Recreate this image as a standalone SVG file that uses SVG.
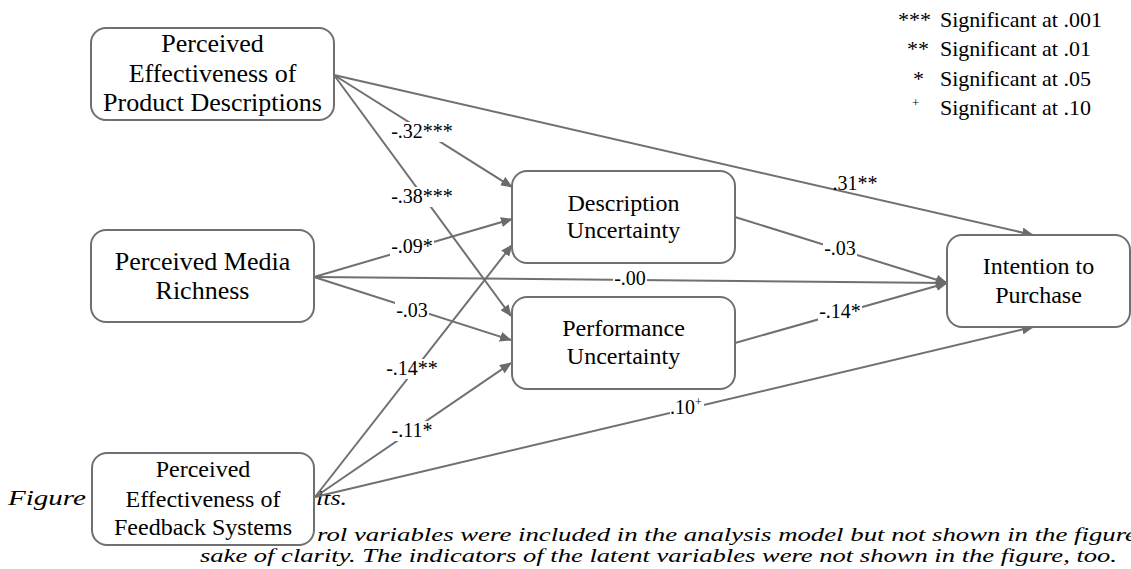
<svg xmlns="http://www.w3.org/2000/svg" width="1131" height="569" viewBox="0 0 1131 569">
<defs>
<marker id="ah" markerUnits="userSpaceOnUse" markerWidth="12" markerHeight="10" refX="11" refY="5" orient="auto">
<path d="M0,0 L12,5 L0,10 z" fill="#6b6b6b"/>
</marker>
<style>
text{font-family:'Liberation Serif','Times New Roman',Tinos,'DejaVu Serif',serif;fill:#000}
.box{fill:#fff;stroke:#707070;stroke-width:2}
.nt{font-size:24px;text-anchor:middle}
.nc{font-size:26px;text-anchor:middle}
.ln{stroke:#707070;stroke-width:2;fill:none;marker-end:url(#ah)}
.lb{font-size:20px;text-anchor:middle}
.bg{fill:#fff}
.cap{font-size:21px;font-style:italic}
.cap2{font-size:18px;font-style:italic}
.lg{font-size:22px}
</style>
</defs>
<rect width="1131" height="569" fill="#fff"/>
<g id="caption">
<text class="cap" x="8" y="505" textLength="78" lengthAdjust="spacingAndGlyphs">Figure</text>
<text class="cap" x="316" y="505" textLength="31" lengthAdjust="spacingAndGlyphs">lts.</text>
<text class="cap2" x="317" y="541" textLength="820" lengthAdjust="spacingAndGlyphs">rol variables were included in the analysis model but not shown in the figure</text>
<text class="cap2" x="200" y="562" textLength="917" lengthAdjust="spacingAndGlyphs">sake of clarity. The indicators of the latent variables were not shown in the figure, too.</text>
</g>
<g id="legend">
<text class="lg" x="898" y="27">***</text><text class="lg" x="940" y="27">Significant at .001</text>
<text class="lg" x="907" y="56">**</text><text class="lg" x="940" y="56">Significant at .01</text>
<text class="lg" x="913" y="86">*</text><text class="lg" x="940" y="86">Significant at .05</text>
<text class="lg" x="912" y="107" style="font-size:13px">+</text><text class="lg" x="940" y="115">Significant at .10</text>
</g>
<g id="connectors">
<line class="ln" x1="334" y1="75" x2="1033" y2="235"/>
<line class="ln" x1="334" y1="75" x2="512" y2="187"/>
<line class="ln" x1="334" y1="75" x2="511" y2="316"/>
<line class="ln" x1="314" y1="277" x2="512" y2="219"/>
<line class="ln" x1="314" y1="277" x2="947" y2="283"/>
<line class="ln" x1="314" y1="277" x2="511" y2="340"/>
<line class="ln" x1="315" y1="497" x2="512" y2="245"/>
<line class="ln" x1="315" y1="497" x2="511" y2="363"/>
<line class="ln" x1="315" y1="497" x2="1033" y2="327"/>
<line class="ln" x1="735" y1="217" x2="947" y2="283"/>
<line class="ln" x1="735" y1="343" x2="947" y2="283"/>
<rect class="bg" x="390" y="122" width="65" height="20"/><text class="lb" x="422" y="138">-.32***</text>
<rect class="bg" x="390" y="187" width="65" height="20"/><text class="lb" x="422" y="203">-.38***</text>
<rect class="bg" x="390" y="237" width="44" height="20"/><text class="lb" x="412" y="253">-.09*</text>
<rect class="bg" x="613" y="269" width="34" height="19"/><text class="lb" x="630" y="285">-.00</text>
<rect class="bg" x="395" y="301" width="34" height="19"/><text class="lb" x="412" y="317">-.03</text>
<rect class="bg" x="385" y="359" width="54" height="20"/><text class="lb" x="412" y="375">-.14**</text>
<rect class="bg" x="390" y="421" width="44" height="20"/><text class="lb" x="412" y="437">-.11*</text>
<rect class="bg" x="670" y="397" width="34" height="21"/><text class="lb" x="686" y="414">.10<tspan style="font-size:12px" dy="-8">+</tspan></text>
<rect class="bg" x="823" y="239" width="34" height="19"/><text class="lb" x="840" y="255">-.03</text>
<rect class="bg" x="818" y="302" width="44" height="20"/><text class="lb" x="840" y="318">-.14*</text>
<text class="lb" x="855" y="190">.31**</text>
</g>
<g id="node-pd">
<rect class="box" x="91" y="28" width="243" height="92" rx="15"/>
<text class="nc" x="212.5" y="52">Perceived</text>
<text class="nc" x="212.5" y="82">Effectiveness of</text>
<text class="nc" x="212.5" y="111">Product Descriptions</text>
</g>
<g id="node-mr">
<rect class="box" x="91" y="230" width="223" height="92" rx="15"/>
<text class="nc" x="202.5" y="270">Perceived Media</text>
<text class="nc" x="202.5" y="299">Richness</text>
</g>
<g id="node-fs">
<rect class="box" x="92" y="453" width="222" height="92" rx="15"/>
<text class="nt" x="203" y="477">Perceived</text>
<text class="nt" x="203" y="507">Effectiveness of</text>
<text class="nt" x="203" y="535">Feedback Systems</text>
</g>
<g id="node-du">
<rect class="box" x="512" y="171" width="223" height="92" rx="15"/>
<text class="nt" x="623.5" y="211">Description</text>
<text class="nt" x="623.5" y="238">Uncertainty</text>
</g>
<g id="node-pu">
<rect class="box" x="512" y="297" width="223" height="92" rx="15"/>
<text class="nt" x="623.5" y="336">Performance</text>
<text class="nt" x="623.5" y="364">Uncertainty</text>
</g>
<g id="node-ip">
<rect class="box" x="947" y="235" width="183" height="92" rx="15"/>
<text class="nt" x="1038.5" y="274">Intention to</text>
<text class="nt" x="1038.5" y="303">Purchase</text>
</g>
</svg>
